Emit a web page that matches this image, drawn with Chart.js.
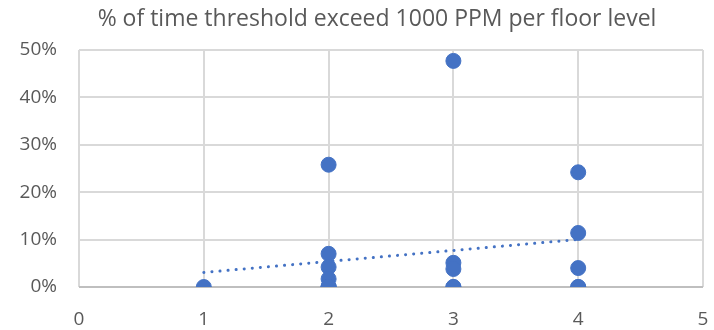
<!DOCTYPE html>
<html>
<head>
<meta charset="utf-8">
<script src="https://cdn.jsdelivr.net/npm/chart.js@4/dist/chart.umd.min.js"></script>
<style>
  body { margin: 0; background: #fff; }
  #wrap { width: 714px; height: 330px; }
</style>
</head>
<body>
<div id="wrap"><canvas id="myChart" width="714" height="330"></canvas></div>
<script>
// floor level and % of time above 1000 PPM (several points overlap at 0%)
const floors = [1, 2, 2, 2, 2, 2, 2, 2, 2, 3, 3, 3, 3, 3, 4, 4, 4, 4, 4];
const percents = [0, 25.8, 7.0, 4.2, 1.7, 0, 0, 0, 0, 47.7, 5.1, 3.8, 0, 0, 24.2, 11.4, 4.0, 0, 0];
const yTicks = [0, 10, 20, 30, 40, 50];
const xTicks = [0, 1, 2, 3, 4, 5];

let points = floors.map((f, i) => ({x: f, y: percents[i]}));

// linear trendline from the data (least squares)
let n = floors.length;
let mx = floors.reduce((a, b) => a + b, 0) / n;
let my = percents.reduce((a, b) => a + b, 0) / n;
let sxy = 0, sxx = 0;
for (let i = 0; i < n; i++) {
    sxy += (floors[i] - mx) * (percents[i] - my);
    sxx += (floors[i] - mx) * (floors[i] - mx);
}
let slope = sxy / sxx;
let intercept = my - slope * mx;
let xMin = Math.min(...floors), xMax = Math.max(...floors);
let trend = [{x: xMin, y: intercept + slope * xMin}, {x: xMax, y: intercept + slope * xMax}];

const textColor = "#595959";
const font = "'Open Sans', sans-serif";

// the title in the original sits a little right of the canvas centre
const shiftTitle = {
    id: "shiftTitle",
    afterLayout: function (chart) {
        if (chart.titleBlock) {
            chart.titleBlock.left = 40;
            chart.titleBlock.right = 714;
        }
    }
};

new Chart("myChart", {
    type: "scatter",
    data: {
        datasets: [{
            data: trend,
            type: "line",
            borderColor: "#4472C4",
            borderWidth: 3,
            borderDash: [0.1, 8],
            borderCapStyle: "round",
            pointRadius: 0,
            fill: false
        }, {
            data: points,
            backgroundColor: "#4472C4",
            borderColor: "#4472C4",
            pointRadius: 7.5,
            pointHoverRadius: 7.5
        }]
    },
    plugins: [shiftTitle],
    options: {
        responsive: false,
        animation: false,
        layout: {padding: {top: 0, right: 11, bottom: 0, left: 0}},
        plugins: {
            legend: {display: false},
            tooltip: {enabled: false},
            title: {
                display: true,
                text: "% of time threshold exceed 1000 PPM per floor level",
                color: textColor,
                font: {family: font, size: 23, weight: "normal"},
                padding: {top: 6, bottom: 16.4}
            }
        },
        scales: {
            x: {
                type: "linear",
                min: 0,
                max: 5,
                afterBuildTicks: axis => { axis.ticks = xTicks.map(v => ({value: v})); },
                afterFit: axis => {
                    axis.height = 43;
                    axis.paddingLeft = 0;
                    axis.paddingRight = 0;
                },
                grid: {color: "#d9d9d9", lineWidth: 2, drawTicks: false},
                border: {display: false},
                ticks: {color: textColor, font: {family: font, size: 19}, padding: 21}
            },
            y: {
                min: 0,
                max: 50,
                afterBuildTicks: axis => { axis.ticks = yTicks.map(v => ({value: v})); },
                afterFit: axis => { axis.width = 79; },
                grid: {
                    color: ctx => ctx.tick && ctx.tick.value === 0 ? "#bfbfbf" : "#d9d9d9",
                    lineWidth: 2,
                    drawTicks: false
                },
                border: {display: false},
                ticks: {
                    color: textColor,
                    font: {family: font, size: 19},
                    padding: 22,
                    callback: v => v + "%"
                }
            }
        }
    }
});
</script>
</body>
</html>
